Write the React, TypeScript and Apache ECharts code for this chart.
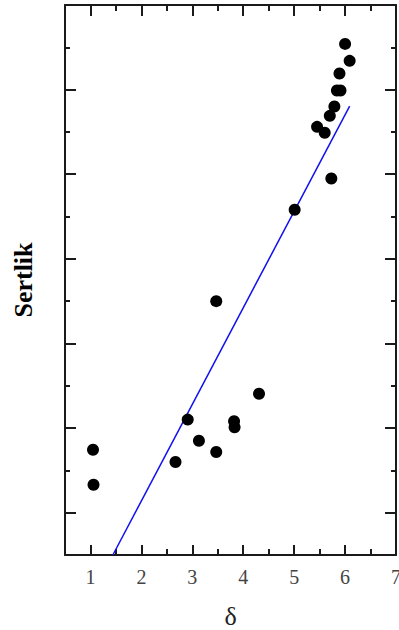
import React, { useEffect, useRef } from "react";
import * as echarts from "echarts";

const deltaValues = [6.0, 6.09, 5.89, 5.84, 5.91, 5.79, 5.7, 5.45, 5.6, 5.73, 5.01, 3.47, 4.31, 2.91, 3.82, 3.83, 1.05, 3.13, 3.47, 2.67, 1.06];
const hardnessValues = [55.4, 53.4, 51.9, 49.9, 49.9, 48.0, 46.9, 45.6, 44.9, 39.5, 35.8, 25.0, 14.05, 11.0, 10.8, 10.1, 7.44, 8.5, 7.17, 5.99, 3.31];
const fitDelta = [1.44, 6.09];
const fitHardness = [-5, 48.05];
const xMajorTicks = [1, 2, 3, 4, 5, 6, 7];
const xMinorTicks = [1.5, 2.5, 3.5, 4.5, 5.5, 6.5];
const yMajorTicks = [0, 10, 20, 30, 40, 50, 60];
const yMinorTicks = [5, 15, 25, 35, 45, 55];

const X_MIN = 0.5;
const X_MAX = 7;
const Y_MIN = -5;
const Y_MAX = 60;
const SERIF = "'Liberation Serif', 'Times New Roman', 'DejaVu Serif', serif";

function tickAxis(kind: "x" | "y", position: string, ticks: number[], len: number, main: boolean, extra: any = {}) {
  return {
    type: "value",
    position,
    min: kind === "x" ? X_MIN : Y_MIN,
    max: kind === "x" ? X_MAX : Y_MAX,
    axisLine: { show: main, onZero: false, lineStyle: { color: "#1a1a1a", width: 2 } },
    axisTick: { show: true, inside: true, length: len, customValues: ticks, lineStyle: { color: "#1a1a1a", width: 2 } },
    axisLabel: { show: false },
    splitLine: { show: false },
    ...extra,
  };
}

export default function App() {
  const ref = useRef<HTMLDivElement>(null);
  useEffect(() => {
    if (!ref.current) return;
    const chart = echarts.init(ref.current, undefined, { renderer: "svg" });
    const scatterData = deltaValues.map((d, i) => [d, hardnessValues[i]]);
    const fitData = fitDelta.map((d, i) => [d, fitHardness[i]]);
    chart.setOption({
      animation: false,
      backgroundColor: "#ffffff",
      grid: { left: 65, right: 3, top: 5, bottom: 75, containLabel: false, outerBoundsMode: "none" },
      xAxis: [
        tickAxis("x", "bottom", xMajorTicks, 10, true, {
          name: "δ",
          nameLocation: "middle",
          nameGap: 48,
          nameTextStyle: { fontFamily: SERIF, fontSize: 26, color: "#222" },
          axisLabel: {
            show: true,
            customValues: xMajorTicks,
            fontFamily: SERIF,
            fontSize: 20,
            color: "#444",
            margin: 12,
          },
        }),
        tickAxis("x", "bottom", xMinorTicks, 6, false),
        tickAxis("x", "top", xMajorTicks, 11, true),
        tickAxis("x", "top", xMinorTicks, 6, false),
      ],
      yAxis: [
        tickAxis("y", "left", yMajorTicks, 11, true, {
          name: "Sertlik",
          nameLocation: "middle",
          nameGap: 29,
          nameTextStyle: { fontFamily: SERIF, fontSize: 26, fontWeight: "bold", color: "#000" },
        }),
        tickAxis("y", "left", yMinorTicks, 5, false),
        tickAxis("y", "right", yMajorTicks, 11, true),
        tickAxis("y", "right", yMinorTicks, 5, false),
      ],
      series: [
        {
          type: "line",
          data: fitData,
          xAxisIndex: 0,
          yAxisIndex: 0,
          showSymbol: false,
          symbol: "none",
          lineStyle: { color: "#1010f0", width: 1.5 },
          z: 2,
        },
        {
          type: "scatter",
          data: scatterData,
          xAxisIndex: 0,
          yAxisIndex: 0,
          symbol: "circle",
          symbolSize: 12,
          itemStyle: { color: "#000000", opacity: 1 },
          z: 3,
        },
      ],
    });
    return () => chart.dispose();
  }, []);
  return (
    <div
      ref={ref}
      style={{ position: "fixed", left: 0, top: 0, width: 399, height: 630, background: "#fff" }}
    />
  );
}
